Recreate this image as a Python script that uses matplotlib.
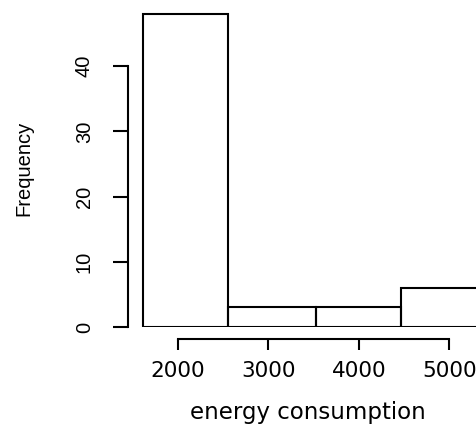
import numpy as np
import matplotlib.pyplot as plt

# histogram of energy consumption (bin edges and counts)
bin_edges = [1610, 2555, 3525, 4465, 5405]
counts = [48, 3, 3, 6]
xticks = [2000, 3000, 4000, 5000]
yticks = [0, 10, 20, 30, 40]

fig = plt.figure(figsize=(4.77, 4.28), dpi=100)
ax = fig.add_axes([138/477, 101/428, 339/477, 317/428])

edges = np.array(bin_edges)
ax.bar(edges[:-1], counts, width=np.diff(edges), align='edge',
       fill=False, edgecolor='black', linewidth=1.5)

ax.set_xlim(1557, 5308)
ax.set_ylim(0, 48.6)

for s in ['top', 'right']:
    ax.spines[s].set_visible(False)
ax.spines['left'].set_position(('outward', 7.2))
ax.spines['bottom'].set_position(('outward', 8.6))
ax.spines['left'].set_bounds(0, 40)
ax.spines['bottom'].set_bounds(2000, 5000)
for s in ['left', 'bottom']:
    ax.spines[s].set_linewidth(1.5)

ax.set_xticks(xticks)
ax.set_yticks(yticks)
ax.set_xticklabels([str(v) for v in xticks], family='DejaVu Sans', fontsize=15.5)
ax.set_yticklabels([str(v) for v in yticks], family='Liberation Sans', fontsize=14.5,
                   rotation=90, va='center')
ax.tick_params(axis='y', length=10.5, width=1.5, pad=14)
ax.tick_params(axis='x', length=8, width=1.5, pad=8)

ax.set_xlabel('energy consumption', family='DejaVu Sans', fontsize=16.5, labelpad=14)
ax.set_ylabel('Frequency', family='Liberation Sans', fontsize=14.5, labelpad=30)

fig.savefig('out.png', dpi=100)
